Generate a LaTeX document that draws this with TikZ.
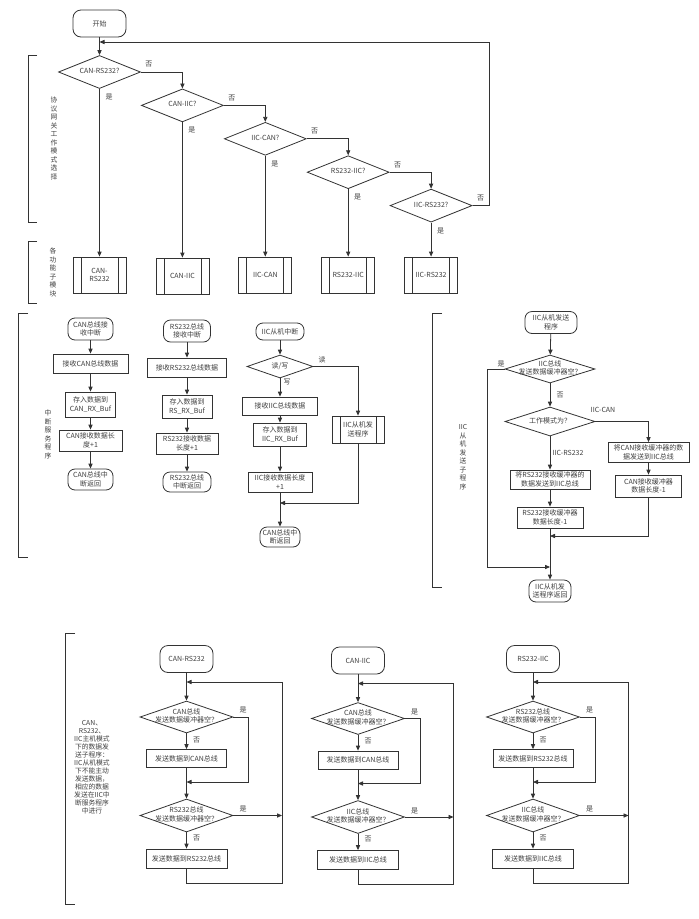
\documentclass[tikz,border=0pt]{standalone}
\usepackage{fontspec}
\setmainfont{Noto Sans CJK SC}
\usetikzlibrary{shapes.geometric,arrows.meta}
\newcommand\dt[1]{\smash{\makebox[0pt]{\raisebox{-1.6pt}{\begin{tabular}{@{}c@{}}#1\end{tabular}}}}}
\tikzset{
  txt/.style={text=black!75, font=\fontsize{7}{8.5}\selectfont, align=center, inner sep=1pt},
  term/.style={txt, draw, rectangle, rounded corners=7pt},
  proc/.style={txt, draw, rectangle},
  dec/.style={txt, draw, diamond, inner sep=0pt},
  subp/.style={txt, draw, rectangle, path picture={\draw[line width=0.8pt]
     ([xshift=8pt]path picture bounding box.north west) -- ([xshift=8pt]path picture bounding box.south west)
     ([xshift=-8pt]path picture bounding box.north east) -- ([xshift=-8pt]path picture bounding box.south east);}},
  yn/.style={txt, inner sep=0pt},
  vlab/.style={txt, font=\fontsize{6.8}{8.5}\selectfont},
  arr/.style={-{Triangle[length=5pt,width=4.2pt]}},
}
\newcommand\sendcol[8]{%
\begin{scope}[shift={(#2,#3)}]
\node[term, minimum width=53pt, minimum height=27pt, rounded corners=8pt] (#1s) at (0,659) {#4};
\coordinate (#1lt) at (0,682);
\node[dec, minimum width=93pt, minimum height=32pt] (#1d1) at (0,717) {\dt{#5}};
\node[proc, minimum width=80pt, minimum height=18pt] (#1b1) at (0,758.5) {#6};
\coordinate (#1m) at (0,782);
\node[dec, minimum width=93pt, minimum height=33pt] (#1d2) at (0,815.5) {\dt{#7}};
\node[proc, minimum width=81pt, minimum height=19pt] (#1b2) at (0,858.5) {#8};
\coordinate (#1r) at (95.5,815.5);
\coordinate (#1bot) at (95.5,883);
\coordinate (#1top) at (95.5,682);
\draw[arr] (#1s) -- (#1d1);
\draw[arr] (#1d1) -- (#1b1);
\draw[arr] (#1b1) -- (#1d2);
\draw[arr] (#1d2) -- (#1b2);
\draw[arr] (#1d1.east) -- ++(15,0) |- (#1m);
\draw[arr] (#1d2.east) -- (#1r);
\draw[arr] (#1b2.south) |- (#1bot) -- (#1top) -- (#1lt);
\node[yn] (#1y1) at (56.5,710) {是};
\node[yn] (#1n1) at (10,740) {否};
\node[yn] (#1y2) at (56.5,809) {是};
\node[yn] (#1n2) at (10,838) {否};
\end{scope}}

\begin{document}
\begin{tikzpicture}[x=1pt,y=-1pt,line width=0.8pt,color=black!80]
\useasboundingbox[fill=white] (0,0) rectangle (699,919);

% ---------- section 1: mode selection ----------
\node[term, minimum width=53pt, minimum height=27pt, rounded corners=8pt] (start) at (99.5,23.5) {开始};
\node[dec, minimum width=82pt, minimum height=33pt] (d1) at (99.5,72) {\dt{CAN-RS232?}};
\node[dec, minimum width=82pt, minimum height=33pt] (d2) at (182.4,105.4) {\dt{CAN-IIC?}};
\node[dec, minimum width=82pt, minimum height=33pt] (d3) at (265.3,138.8) {\dt{IIC-CAN?}};
\node[dec, minimum width=82pt, minimum height=33pt] (d4) at (348.2,172.2) {\dt{RS232-IIC?}};
\node[dec, minimum width=82pt, minimum height=33pt] (d5) at (431.1,205.6) {\dt{IIC-RS232?}};

\node[subp, minimum width=53pt, minimum height=36pt] (s1) at (99.5,275) {CAN-\\RS232};
\node[subp, minimum width=53pt, minimum height=36pt] (s2) at (182.4,276) {CAN-IIC};
\node[subp, minimum width=53pt, minimum height=36pt] (s3) at (265.3,275) {IIC-CAN};
\node[subp, minimum width=53pt, minimum height=36pt] (s4) at (348.2,275) {RS232-IIC};
\node[subp, minimum width=53pt, minimum height=36pt] (s5) at (431.1,275) {IIC-RS232};

\coordinate (fb) at (99.5,42);
\draw[arr] (start) -- (d1);
\draw[arr] (d1.east) -| (d2.north);
\draw[arr] (d2.east) -| (d3.north);
\draw[arr] (d3.east) -| (d4.north);
\draw[arr] (d4.east) -| (d5.north);
\draw[arr] (d5.east) -- ++(16.9,0) |- (fb);
\draw[arr] (d1) -- (s1);
\draw[arr] (d2) -- (s2);
\draw[arr] (d3) -- (s3);
\draw[arr] (d4) -- (s4);
\draw[arr] (d5) -- (s5);
\foreach \i in {1,...,5}{
  \node[yn] (no\i) at ([shift={(8,-7.5)}]d\i.east) {否};
  \node[yn] (yes\i) at ([shift={(9.5,8)}]d\i.south) {是};
}

% brackets and side labels
\draw (37,55) -- (28,55) -- (28,222) -- (37,222);
\node[vlab] (l1) at (54,138.5) {协\\议\\网\\关\\工\\作\\模\\式\\选\\择};
\draw (37,241) -- (28,241) -- (28,303) -- (37,303);
\node[vlab] (l2) at (53,272.5) {各\\功\\能\\子\\模\\块};
\draw (28,313) -- (18,313) -- (18,557) -- (28,557);
\node[vlab] (l3) at (48,434.5) {中\\断\\服\\务\\程\\序};
\draw (442,313) -- (432,313) -- (432,587) -- (442,587);
\node[vlab] (l4) at (463,457) {IIC\\从\\机\\发\\送\\子\\程\\序};
\draw (75,633) -- (65,633) -- (65,904) -- (75,904);
\node[txt, font=\fontsize{6.8}{8}\selectfont] (l5) at (92,767.5) {CAN、\\RS232、\\IIC主机模式\\下的数据发\\送子程序：\\IIC从机模式\\下不能主动\\发送数据，\\相应的数据\\发送在IIC中\\断服务程序\\中进行};

% ---------- section 3: ISRs ----------
\node[term, minimum width=45pt, minimum height=22pt] (c0) at (90.5,329) {CAN总线接\\收中断};
\node[proc, minimum width=75pt, minimum height=19pt] (c1) at (90.5,363.5) {接收CAN总线数据};
\node[proc, minimum width=50pt, minimum height=25pt] (c2) at (90.5,404.5) {存入数据到\\CAN\_RX\_Buf};
\node[proc, minimum width=63pt, minimum height=21pt] (c3) at (90.5,440.5) {CAN接收数据长\\度+1};
\node[term, minimum width=45pt, minimum height=21pt] (c4) at (90.5,479.5) {CAN总线中\\断返回};
\draw[arr] (c0) -- (c1);
\draw[arr] (c1) -- (c2);
\draw[arr] (c2) -- (c3);
\draw[arr] (c3) -- (c4);

\node[term, minimum width=47pt, minimum height=22pt] (r0) at (187,331) {RS232总线\\接收中断};
\node[proc, minimum width=79pt, minimum height=19pt] (r1) at (187,367.5) {接收RS232总线数据};
\node[proc, minimum width=50pt, minimum height=23pt] (r2) at (187,406.5) {存入数据到\\RS\_RX\_Buf};
\node[proc, minimum width=62pt, minimum height=21pt] (r3) at (187,443.5) {RS232接收数据\\长度+1};
\node[term, minimum width=48pt, minimum height=20pt] (r4) at (187,482) {RS232总线\\中断返回};
\draw[arr] (r0) -- (r1);
\draw[arr] (r1) -- (r2);
\draw[arr] (r2) -- (r3);
\draw[arr] (r3) -- (r4);

\node[term, minimum width=48pt, minimum height=17pt] (i0) at (280,331.5) {IIC从机中断};
\node[dec, minimum width=66pt, minimum height=23pt] (i1) at (280,366.5) {\dt{读/写}};
\node[proc, minimum width=75pt, minimum height=18pt] (i2) at (280,406) {接收IIC总线数据};
\node[proc, minimum width=53pt, minimum height=23pt] (i3) at (280,434.5) {存入数据到\\IIC\_RX\_Buf};
\node[proc, minimum width=64pt, minimum height=20pt] (i4) at (280,482) {IIC接收数据长度\\+1};
\node[term, minimum width=40pt, minimum height=20pt] (i5) at (280,537) {CAN总线中\\断返回};
\node[subp, minimum width=52pt, minimum height=27pt] (is) at (358,429.5) {IIC从机发\\送程序};
\coordinate (im) at (280,503);
\draw[arr] (i0) -- (i1);
\draw[arr] (i1) -- (i2);
\draw[arr] (i2) -- (i3);
\draw[arr] (i3) -- (i4);
\draw[arr] (i4) -- (i5);
\draw[arr] (i1.east) -| (is.north);
\draw[arr] (is.south) |- (im);
\node[yn] (iw) at (287,382) {写};
\node[yn] (ir) at (322,360) {读};

% ---------- section 4: IIC slave send ----------
\node[term, minimum width=52pt, minimum height=22pt] (t0) at (551,322.5) {IIC从机发送\\程序};
\node[dec, minimum width=90pt, minimum height=28pt] (t1) at (550,369) {\dt{IIC总线\\发送数据缓冲器空？}};
\node[dec, minimum width=90pt, minimum height=29pt] (t2) at (550,421.5) {\dt{工作模式为？}};
\node[proc, minimum width=81pt, minimum height=20pt] (t3) at (648.5,452.5) {将CAN接收缓冲器的数\\据发送到IIC总线};
\node[proc, minimum width=66pt, minimum height=22pt] (t4) at (648.5,486) {CAN接收缓冲器\\数据长度-1};
\node[proc, minimum width=80pt, minimum height=19pt] (t5) at (550,479.5) {将RS232接收缓冲器的\\数据发送到IIC总线};
\node[proc, minimum width=66pt, minimum height=21pt] (t6) at (550,517.5) {RS232接收缓冲器\\数据长度-1};
\node[term, minimum width=42pt, minimum height=22pt] (t7) at (550,591) {IIC从机发\\送程序返回};
\coordinate (tm1) at (550,536);
\coordinate (tm2) at (550,567);
\draw[arr] (t0) -- (t1);
\draw[arr] (t1) -- (t2);
\draw[arr] (t2) -- (t5);
\draw[arr] (t2.east) -| (t3.north);
\draw[arr] (t3) -- (t4);
\draw[arr] (t5) -- (t6);
\draw[arr] (t6) -- (t7);
\draw[arr] (t4.south) |- (tm1);
\draw[arr] (t1.west) -- ++(-17,0) |- (tm2);
\node[yn] (ty) at (501,364) {是};
\node[yn] (tn) at (560,395) {否};
\node[yn] (tc) at (603,410) {IIC-CAN};
\node[yn] (tr) at (568,453) {IIC-RS232};

% ---------- section 5: master send ----------
\sendcol{a}{186.5}{0}{CAN-RS232}{CAN总线\\发送数据缓冲器空？}{发送数据到CAN总线}{RS232总线\\发送数据缓冲器空？}{发送数据到RS232总线}
\sendcol{b}{358}{1.5}{CAN-IIC}{CAN总线\\发送数据缓冲器空？}{发送数据到CAN总线}{IIC总线\\发送数据缓冲器空？}{发送数据到IIC总线}
\sendcol{c}{533}{0}{RS232-IIC}{RS232总线\\发送数据缓冲器空？}{发送数据到RS232总线}{IIC总线\\发送数据缓冲器空？}{发送数据到IIC总线}
\end{tikzpicture}
\end{document}
